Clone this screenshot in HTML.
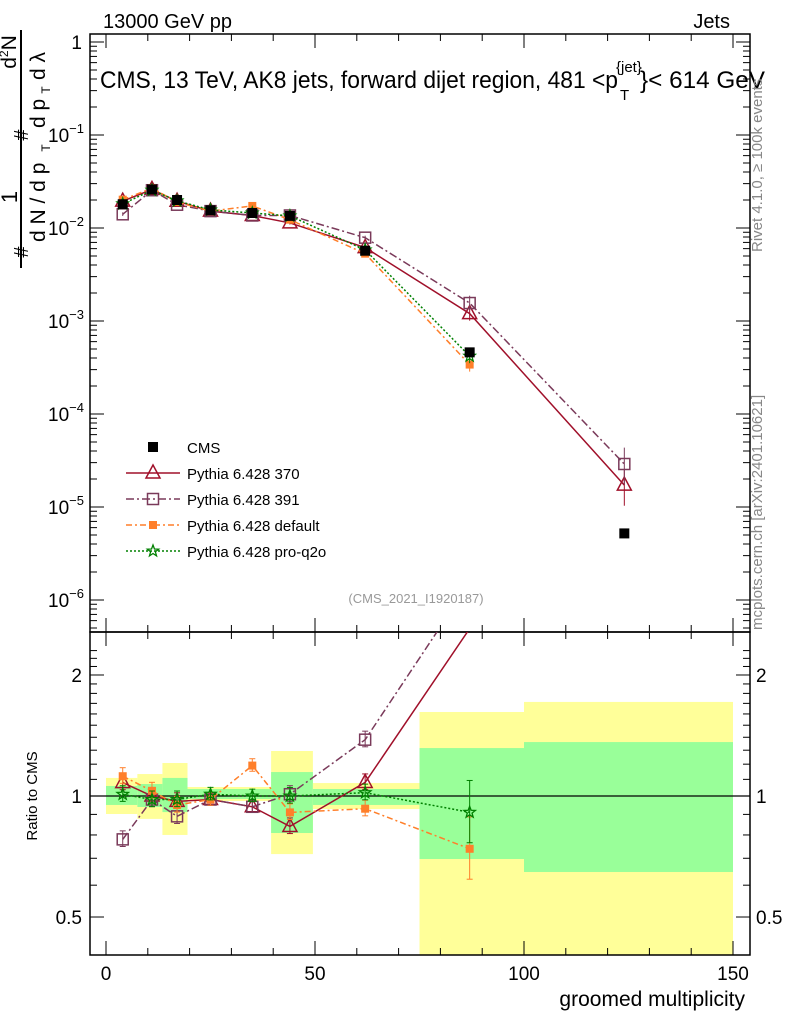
<!DOCTYPE html>
<html><head><meta charset="utf-8"><style>
body{margin:0;background:#fff;}
svg{font-family:"Liberation Sans",sans-serif;}
</style></head><body>
<svg id="c" width="786" height="1024" xmlns="http://www.w3.org/2000/svg"></svg>
<script>
const xCenters=[4,11,17,25,35,44,62,87,124];
const cmsVals=[0.018,0.026,0.020,0.0155,0.0145,0.0135,0.0057,0.00046,5.2e-6];
const p370=[0.01944,0.026,0.0194,0.01519,0.01363,0.01134,0.00616,0.0012,1.72e-5];
const p391=[0.01404,0.02548,0.0178,0.01519,0.01363,0.01364,0.00787,0.00156,2.9e-5];
const pDef=[0.02016,0.02678,0.019,0.01519,0.01726,0.01229,0.0053,0.00034];
const pQ2o=[0.01818,0.02548,0.0196,0.01566,0.0145,0.0135,0.00581,0.000419];
const relErr=[0.05,0.05,0.05,0.04,0.04,0.05,0.05,0.2,0.5];
const binEdges=[0,7.5,13.5,19.5,39.5,49.5,75,100,150];
const yellowLo=[0.902,0.877,0.800,0.972,0.717,0.928,0.3,0.3];
const yellowHi=[1.109,1.134,1.208,1.053,1.294,1.077,1.618,1.714];
const greenLo=[0.950,0.939,0.912,0.983,0.809,0.950,0.697,0.647];
const greenHi=[1.059,1.071,1.109,1.041,1.147,1.041,1.316,1.362];
const xTicksMajor=[0,50,100,150];
const ratioTicks=[0.5,1,2];

const NS="http://www.w3.org/2000/svg";
const svg=document.getElementById('c');
function el(t,a,p){const e=document.createElementNS(NS,t);for(const k in a)e.setAttribute(k,a[k]);(p||svg).appendChild(e);return e;}
const L=90,R=750,T=34,MID=632,B=955;
const X=v=>106+(v)*4.18;
const Y=v=>42-93*Math.log10(v);
const YR=r=>796-402*Math.log10(r);

const bands=el('g',{});
for(let i=0;i<8;i++){
 const x0=X(binEdges[i]),x1=X(binEdges[i+1]);
 const yt=Math.max(YR(yellowHi[i]),MID),yb=Math.min(YR(yellowLo[i]),B);
 const r=el('rect',{x:x0,y:yt,width:x1-x0,height:yb-yt,fill:'#ffff99'},bands);
 
 const g=el('rect',{x:x0,y:YR(greenHi[i]),width:x1-x0,height:YR(greenLo[i])-YR(greenHi[i]),fill:'#99ff99'},bands);
 
}
el('line',{x1:L,x2:R,y1:YR(1),y2:YR(1),stroke:'#000','stroke-width':1.2});

const f1=el('rect',{x:L,y:T,width:R-L,height:MID-T,fill:'none',stroke:'#000','stroke-width':1.5});

const f2=el('rect',{x:L,y:MID,width:R-L,height:B-MID,fill:'none',stroke:'#000','stroke-width':1.5});


for(let v=0;v<=150;v+=10){
 const maj=v%50===0,len=maj?14:7,x=X(v);
 el('line',{x1:x,x2:x,y1:B,y2:B-len,stroke:'#000'});
 el('line',{x1:x,x2:x,y1:MID,y2:MID+len,stroke:'#000'});
 el('line',{x1:x,x2:x,y1:MID,y2:MID-len,stroke:'#000'});
 el('line',{x1:x,x2:x,y1:T,y2:T+len,stroke:'#000'});
}
xTicksMajor.forEach(v=>{const t=el('text',{x:X(v),y:980,'font-size':19,'text-anchor':'middle'});t.textContent=v;
 });
const xt=el('text',{x:745,y:1006,'font-size':21,'text-anchor':'end'});xt.textContent='groomed multiplicity';


for(let e=-7;e<=0;e++){for(let m=1;m<10;m++){const v=m*Math.pow(10,e),y=Y(v);if(y<T||y>MID)continue;
 const len=m===1?14:7;el('line',{x1:L,x2:L+len,y1:y,y2:y,stroke:'#000'});el('line',{x1:R,x2:R-len,y1:y,y2:y,stroke:'#000'});}}
for(let e=-6;e<=0;e++){const y=Y(Math.pow(10,e));
 const t=el('text',{x:e===0?82:84,y:y+7,'font-size':19,'text-anchor':'end'});
 
 if(e===0)t.textContent='1';else{t.textContent='10';const s=el('tspan',{dy:-9,'font-size':13},t);s.textContent=e===-1?'−1':'−'+(-e);}
}
for(let r=0.4;r<=2.31;r+=0.1){const y=YR(r);if(y<MID||y>B)continue;
 const maj=[0.5,1,2].some(v=>Math.abs(v-r)<1e-6);const len=maj?14:7;
 el('line',{x1:L,x2:L+len,y1:y,y2:y,stroke:'#000'});el('line',{x1:R,x2:R-len,y1:y,y2:y,stroke:'#000'});}
ratioTicks.forEach(r=>{['l','r'].forEach(s=>{const t=el('text',{x:s==='l'?82:756,y:YR(r)+7,'font-size':19,'text-anchor':s==='l'?'end':'start'});t.textContent=r;
 });});
const rt=el('text',{transform:'translate(37,796) rotate(-90)','font-size':15,'text-anchor':'middle'});rt.textContent='Ratio to CMS';


const yt=el('g',{});
function rtext(x,y,s,fs,anchor){const t=el('text',{transform:`translate(${x},${y}) rotate(-90)`,'font-size':fs,'text-anchor':anchor||'middle'},yt);t.textContent=s;return t;}
rtext(17,197,'1',22);
const dn=rtext(16,52,'d',21);const sp=el('tspan',{dy:-8,'font-size':12},dn);sp.textContent='2';const sn=el('tspan',{dy:8},dn);sn.textContent='N';
el('line',{x1:21,x2:21,y1:30,y2:268,stroke:'#000','stroke-width':2},yt);
rtext(28,252,'#',20);rtext(28,135,'#',20);
rtext(45,242,'d N / d p',21,'start');rtext(50,148,'T',12);
rtext(45,128,'d p',21,'start');rtext(50,90,'T',12);rtext(45,80,'d λ',21,'start');

const h1=el('text',{x:103,y:28,'font-size':20});h1.textContent='13000 GeV pp';
const h2=el('text',{x:730,y:28,'font-size':20,'text-anchor':'end'});h2.textContent='Jets';
const tt=el('text',{x:100,y:88,'font-size':24,textLength:518,lengthAdjust:'spacingAndGlyphs'});tt.textContent='CMS, 13 TeV, AK8 jets, forward dijet region, 481 <p';

const s1=el('text',{x:616,y:72,'font-size':15});s1.textContent='{jet}';
const s2=el('text',{x:620,y:100,'font-size':15});s2.textContent='T';
const t3=el('text',{x:640,y:88,'font-size':24,textLength:125,lengthAdjust:'spacingAndGlyphs'});t3.textContent='}< 614 GeV';
const rv=el('text',{transform:'translate(762,252) rotate(-90)','font-size':15,fill:'#888'});rv.textContent='Rivet 4.1.0, ≥ 100k events';

const mc=el('text',{transform:'translate(762,630) rotate(-90)','font-size':15,fill:'#888'});mc.textContent='mcplots.cern.ch [arXiv:2401.10621]';

const an=el('text',{x:416,y:603,'font-size':13,fill:'#999','text-anchor':'middle'});an.textContent='(CMS_2021_I1920187)';


function marker(g,type,x,y,col){
 if(type==='sq')el('rect',{x:x-5,y:y-5,width:10,height:10,fill:col},g);
 if(type==='osq')el('rect',{x:x-5.5,y:y-5.5,width:11,height:11,fill:'none',stroke:col,'stroke-width':1.5},g);
 if(type==='tri')el('polygon',{points:`${x},${y-8} ${x-7},${y+5} ${x+7},${y+5}`,fill:'none',stroke:col,'stroke-width':1.5},g);
 if(type==='fsq')el('rect',{x:x-4,y:y-4,width:8,height:8,fill:col},g);
 if(type==='star'){let p='';for(let k=0;k<10;k++){const r=k%2?2.5:6,a=-Math.PI/2+k*Math.PI/5;p+=`${x+r*Math.cos(a)},${y+r*Math.sin(a)} `;}
  el('polygon',{points:p,fill:'none',stroke:col,'stroke-width':1.3},g);}
}
const series=[
 {name:'pythia-370',vals:p370,col:'#a0102a',dash:'',type:'tri',label:'Pythia 6.428 370'},
 {name:'pythia-391',vals:p391,col:'#7a3a5a',dash:'8,3,2,3',type:'osq',label:'Pythia 6.428 391'},
 {name:'pythia-default',vals:pDef,col:'#ff7f2a',dash:'6,3,2,3',type:'fsq',label:'Pythia 6.428 default'},
 {name:'pythia-pro-q2o',vals:pQ2o,col:'#008000',dash:'2,2',type:'star',label:'Pythia 6.428 pro-q2o'}];
const clipU=el('clipPath',{id:'cu'});el('rect',{x:L,y:T,width:R-L,height:MID-T},clipU);
const clipR=el('clipPath',{id:'cr'});el('rect',{x:L,y:MID,width:R-L,height:B-MID},clipR);
series.forEach(s=>{
 const g=el('g',{'clip-path':'url(#cu)'});
 const pts=s.vals.map((v,i)=>`${X(xCenters[i])},${Y(v)}`).join(' ');
 el('polyline',{points:pts,fill:'none',stroke:s.col,'stroke-width':1.5,'stroke-dasharray':s.dash},g);
 s.vals.forEach((v,i)=>{const x=X(xCenters[i]);el('line',{x1:x,x2:x,y1:Y(v*(1+relErr[i])),y2:Y(v*(1-relErr[i]*0.8)),stroke:s.col},g);marker(g,s.type,x,Y(v),s.col);});
 const gr=el('g',{'clip-path':'url(#cr)'});
 const rp=s.vals.map((v,i)=>`${X(xCenters[i])},${YR(v/cmsVals[i])}`).join(' ');
 el('polyline',{points:rp,fill:'none',stroke:s.col,'stroke-width':1.5,'stroke-dasharray':s.dash},gr);
 s.vals.forEach((v,i)=>{const x=X(xCenters[i]),r=v/cmsVals[i];
  if(r>2.4)return;
  el('line',{x1:x,x2:x,y1:YR(r*(1+relErr[i])),y2:YR(r*(1-relErr[i]*0.8)),stroke:s.col},gr);
  el('line',{x1:x-3,x2:x+3,y1:YR(r*(1+relErr[i])),y2:YR(r*(1+relErr[i])),stroke:s.col},gr);
  el('line',{x1:x-3,x2:x+3,y1:YR(r*(1-relErr[i]*0.8)),y2:YR(r*(1-relErr[i]*0.8)),stroke:s.col},gr);
  marker(gr,s.type,x,YR(r),s.col);});
});
const cg=el('g',{});
cmsVals.forEach((v,i)=>marker(cg,'sq',X(xCenters[i]),Y(v),'#000'));

const lg=el('g',{});
const ly0=447,ldy=26;
const e0=el('g',{},lg);
marker(e0,'sq',153,ly0,'#000');const t0=el('text',{x:187,y:ly0+6,'font-size':15},e0);t0.textContent='CMS';
series.forEach((s,k)=>{const y=ly0+ldy*(k+1);const e=el('g',{},lg);
 
 el('line',{x1:126,x2:180,y1:y,y2:y,stroke:s.col,'stroke-width':1.5,'stroke-dasharray':s.dash},e);
 marker(e,s.type,153,y,s.col);const t=el('text',{x:187,y:y+6,'font-size':15},e);t.textContent=s.label;});
</script>
</body></html>
